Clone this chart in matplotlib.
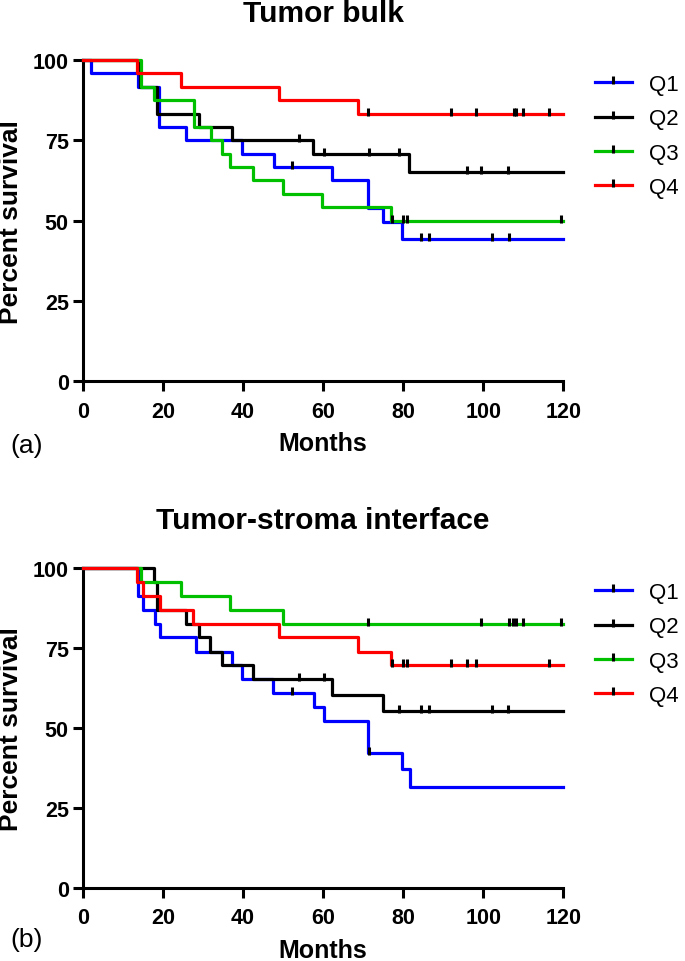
import numpy as np
import matplotlib
matplotlib.use('Agg')
import matplotlib.pyplot as plt
from matplotlib.path import Path
from matplotlib.lines import Line2D

plt.rcParams['font.family'] = ['Liberation Sans', 'DejaVu Sans']

# ---- data (months, percent survival) ----
groups = ['Q1', 'Q2', 'Q3', 'Q4']
colours = ['#0000ff', '#000000', '#00c000', '#ff0000']

# (a) Tumor bulk
bulk_q1_t = [0, 2.1, 13.7, 19.1, 25.8, 39.9, 47.8, 62.3, 71.3, 74.9, 79.8, 120]
bulk_q1_s = [100, 95.8, 91.7, 79.2, 75.0, 70.8, 66.7, 62.5, 53.8, 49.5, 44.4, 44.4]
bulk_q1_cens = [52.2, 84.4, 86.5, 102.3, 106.4]

bulk_q2_t = [0, 13.7, 14.2, 18.5, 29.0, 37.2, 57.5, 81.5, 120]
bulk_q2_s = [100, 95.8, 91.7, 83.3, 79.2, 75.0, 70.8, 65.0, 65.0]
bulk_q2_cens = [54.0, 60.2, 71.6, 79.0, 95.9, 99.5, 106.2]

bulk_q3_t = [0, 14.6, 17.8, 27.8, 32.0, 34.7, 36.8, 42.6, 49.9, 59.7, 77.0, 120]
bulk_q3_s = [100, 91.7, 87.5, 79.2, 75.0, 70.8, 66.7, 62.5, 58.3, 54.2, 50.0, 50.0]
bulk_q3_cens = [77.2, 80.0, 81.0, 119.4]

bulk_q4_t = [0, 13.6, 24.5, 49.0, 68.8, 120]
bulk_q4_s = [100, 95.8, 91.7, 87.5, 83.3, 83.3]
bulk_q4_cens = [71.3, 91.9, 98.2, 107.7, 108.2, 110.0, 116.5]

# (b) Tumor-stroma interface
tsi_q1_t = [0, 13.9, 15.0, 18.1, 19.3, 28.2, 37.2, 39.9, 47.6, 57.8, 60.3, 71.3, 79.8, 81.7, 120]
tsi_q1_s = [100, 91.3, 87.0, 82.6, 78.3, 73.9, 69.6, 65.2, 60.9, 56.5, 52.2, 42.2, 37.1, 31.7, 31.7]
tsi_q1_cens = [52.2, 71.6]

tsi_q2_t = [0, 17.8, 18.5, 25.8, 29.0, 31.8, 34.7, 42.6, 62.3, 74.9, 120]
tsi_q2_s = [100, 95.7, 87.0, 82.6, 78.3, 73.9, 69.6, 65.2, 60.2, 55.2, 55.2]
tsi_q2_cens = [54.0, 60.3, 79.0, 84.4, 86.5, 102.3, 106.2]

tsi_q3_t = [0, 14.6, 24.5, 36.9, 49.9, 120]
tsi_q3_s = [100, 95.7, 91.3, 87.0, 82.6, 82.6]
tsi_q3_cens = [71.3, 99.5, 106.4, 107.4, 108.1, 110.0, 119.4]

tsi_q4_t = [0, 13.6, 15.1, 19.3, 27.6, 49.0, 68.8, 77.0, 120]
tsi_q4_s = [100, 95.7, 91.3, 87.0, 82.6, 78.3, 73.9, 69.6, 69.6]
tsi_q4_cens = [77.2, 80.0, 81.0, 91.9, 95.9, 98.2, 116.5]

panels = [
    ('Tumor bulk', '(a)',
     [(bulk_q1_t, bulk_q1_s, bulk_q1_cens), (bulk_q2_t, bulk_q2_s, bulk_q2_cens),
      (bulk_q3_t, bulk_q3_s, bulk_q3_cens), (bulk_q4_t, bulk_q4_s, bulk_q4_cens)]),
    ('Tumor-stroma interface', '(b)',
     [(tsi_q1_t, tsi_q1_s, tsi_q1_cens), (tsi_q2_t, tsi_q2_s, tsi_q2_cens),
      (tsi_q3_t, tsi_q3_s, tsi_q3_cens), (tsi_q4_t, tsi_q4_s, tsi_q4_cens)]),
]

# censor tick: short vertical bar sitting mostly above the line
tick_marker = Path([(0, -0.35), (0, 1.0)], [Path.MOVETO, Path.LINETO])

W, H = 685, 962
fig = plt.figure(figsize=(W / 100, H / 100), dpi=100)

# axes boxes in pixels: left, top, right, bottom
boxes = [(82.7, 61, 563.3, 382.3), (82.7, 569, 563.3, 889)]
title_y = [14, 521]
legend_y = [75, 583]
tag_y = [446, 940]

draw_order = [1, 0, 2, 3]

for (title, tag, curves), (l, t, r, b), ty, ly, gy in zip(panels, boxes, title_y, legend_y, tag_y):
    ax = fig.add_axes([l / W, 1 - b / H, (r - l) / W, (b - t) / H])
    for i in draw_order:
        times, surv, cens = curves[i]
        ax.step(times, surv, where='post', color=colours[i], lw=2.3, clip_on=False, zorder=3 + i * 0.1)
        cs = [surv[np.searchsorted(times, c, side='right') - 1] for c in cens]
        ax.plot(cens, cs, ls='none', marker=tick_marker, ms=9, mec='black', mew=2.2,
                clip_on=False, zorder=5)
    ax.set_xlim(0, 120)
    ax.set_ylim(0, 100)
    ax.set_xticks([0, 20, 40, 60, 80, 100, 120])
    ax.set_yticks([0, 25, 50, 75, 100])
    for s in ['top', 'right']:
        ax.spines[s].set_visible(False)
    for s in ['left', 'bottom']:
        ax.spines[s].set_linewidth(2.2)
    ax.tick_params(axis='both', direction='out', length=7, width=2.2, labelsize=15.5)
    ax.tick_params(axis='y', pad=3)
    ax.tick_params(axis='x', pad=7)
    for lab in ax.get_xticklabels() + ax.get_yticklabels():
        lab.set_fontweight('bold')
    ax.set_xlabel('Months', fontsize=18, fontweight='bold')
    ax.xaxis.set_label_coords(0.5, -0.155)
    ax.set_ylabel('Percent survival', fontsize=19, fontweight='bold')
    ax.yaxis.set_label_coords(-0.124, 0.5)

    fig.text((l + r) / 2 / W, 1 - ty / H, title, ha='center', va='center',
             fontsize=21.5, fontweight='bold')
    fig.text(10 / W, 1 - gy / H, tag, ha='left', va='center', fontsize=19)

    handles = [Line2D([], [], color=colours[i], lw=2.3, marker=tick_marker, ms=9,
                      mec='black', mew=2.2) for i in range(4)]
    fig.legend(handles, groups, loc='upper left', bbox_to_anchor=(595 / W, 1 - ly / H),
               frameon=False, fontsize=16, handlelength=1.65, handletextpad=0.8,
               labelspacing=0.6, numpoints=1, borderaxespad=0, borderpad=0)

fig.savefig('out.png', dpi=100)
